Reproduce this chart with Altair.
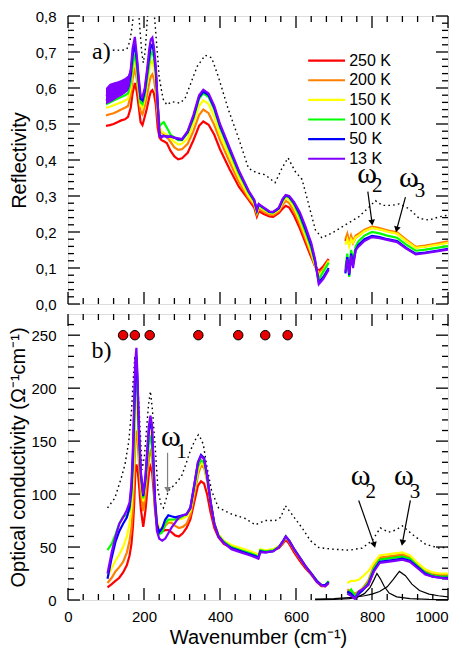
import altair as alt
import pandas as pd

TEMPS = ["250 K", "200 K", "150 K", "100 K", "50 K", "13 K"]
COLORS = ["#ff0000", "#ff8000", "#ffff00", "#00ff00", "#0000ff", "#8000ff"]

# ---------------- Reflectivity (panel a) ----------------
R_WN1 = [100, 110, 120, 130, 140, 150, 158, 165, 170, 176, 181, 186, 191, 196, 202, 208, 214, 218, 222, 226,
         231, 236, 241, 246, 252, 260, 270, 280, 290, 300, 315, 330, 345, 356, 370, 385, 400, 425, 450, 475,
         490, 497, 502, 515, 530, 540, 555, 565, 573, 582, 595, 610, 625, 640, 650, 660, 672, 686]
R1_250 = [0.495, 0.497, 0.500, 0.505, 0.510, 0.513, 0.520, 0.545, 0.585, 0.614, 0.590, 0.550, 0.505, 0.497, 0.520,
          0.545, 0.575, 0.590, 0.594, 0.585, 0.555, 0.490, 0.462, 0.455, 0.452, 0.447, 0.425, 0.410, 0.402, 0.405,
          0.420, 0.455, 0.495, 0.507, 0.498, 0.470, 0.430, 0.375, 0.325, 0.290, 0.268, 0.243, 0.258, 0.250, 0.243,
          0.242, 0.253, 0.265, 0.273, 0.268, 0.245, 0.210, 0.170, 0.130, 0.105, 0.092, 0.105, 0.125]
R1_200 = [0.524, 0.527, 0.530, 0.535, 0.540, 0.545, 0.550, 0.580, 0.625, 0.657, 0.625, 0.580, 0.535, 0.527, 0.550,
          0.580, 0.615, 0.632, 0.638, 0.625, 0.590, 0.520, 0.480, 0.477, 0.470, 0.465, 0.450, 0.435, 0.428, 0.430,
          0.445, 0.480, 0.525, 0.540, 0.530, 0.497, 0.455, 0.395, 0.338, 0.295, 0.275, 0.250, 0.265, 0.256, 0.248,
          0.247, 0.258, 0.275, 0.287, 0.280, 0.258, 0.222, 0.180, 0.138, 0.105, 0.085, 0.098, 0.122]
R1_150 = [0.545, 0.548, 0.552, 0.556, 0.560, 0.565, 0.570, 0.600, 0.650, 0.679, 0.645, 0.595, 0.550, 0.545, 0.570,
          0.610, 0.650, 0.670, 0.675, 0.660, 0.620, 0.540, 0.490, 0.480, 0.475, 0.470, 0.460, 0.450, 0.443, 0.445,
          0.460, 0.500, 0.550, 0.566, 0.555, 0.520, 0.470, 0.410, 0.350, 0.300, 0.280, 0.255, 0.270, 0.262, 0.253,
          0.252, 0.262, 0.282, 0.295, 0.290, 0.268, 0.232, 0.190, 0.145, 0.110, 0.080, 0.092, 0.120]
R1_100 = [0.555, 0.560, 0.565, 0.570, 0.575, 0.580, 0.585, 0.615, 0.665, 0.695, 0.660, 0.605, 0.560, 0.555, 0.580,
          0.625, 0.670, 0.695, 0.700, 0.685, 0.640, 0.550, 0.495, 0.500, 0.505, 0.490, 0.470, 0.463, 0.455, 0.455,
          0.475, 0.515, 0.570, 0.586, 0.575, 0.540, 0.490, 0.425, 0.362, 0.310, 0.285, 0.258, 0.275, 0.265, 0.255,
          0.254, 0.265, 0.287, 0.300, 0.296, 0.276, 0.242, 0.200, 0.155, 0.115, 0.068, 0.090, 0.115]
R1_50 = [0.565, 0.572, 0.578, 0.584, 0.590, 0.595, 0.600, 0.635, 0.690, 0.720, 0.680, 0.620, 0.570, 0.565, 0.590,
         0.640, 0.690, 0.715, 0.720, 0.700, 0.650, 0.555, 0.470, 0.465, 0.466, 0.466, 0.465, 0.462, 0.458, 0.457,
         0.478, 0.520, 0.575, 0.590, 0.580, 0.545, 0.495, 0.430, 0.367, 0.313, 0.288, 0.260, 0.277, 0.267, 0.256,
         0.255, 0.266, 0.290, 0.302, 0.298, 0.280, 0.250, 0.208, 0.163, 0.120, 0.060, 0.075, 0.100]
R1_13 = [0.578, 0.584, 0.590, 0.596, 0.602, 0.608, 0.614, 0.650, 0.710, 0.742, 0.690, 0.630, 0.580, 0.575, 0.600,
         0.650, 0.710, 0.735, 0.740, 0.715, 0.660, 0.560, 0.465, 0.462, 0.468, 0.463, 0.466, 0.462, 0.460, 0.458,
         0.480, 0.525, 0.580, 0.595, 0.585, 0.550, 0.500, 0.435, 0.370, 0.315, 0.290, 0.262, 0.278, 0.268, 0.257,
         0.256, 0.268, 0.292, 0.303, 0.300, 0.283, 0.255, 0.215, 0.170, 0.125, 0.055, 0.070, 0.095]

# noisy band of the 13 K reflectivity at low wavenumbers
R_NOISE_WN = [100, 110, 120, 130, 140, 150, 158, 164]
R_NOISE_LO = [0.555, 0.560, 0.565, 0.572, 0.578, 0.585, 0.592, 0.615]
R_NOISE_HI = [0.600, 0.612, 0.615, 0.618, 0.622, 0.628, 0.635, 0.655]

R_WN2 = [730, 735, 740, 745, 750, 757, 765, 780, 800, 820, 840, 866, 890, 915, 940, 970, 1000]
R2_250 = [0.175, 0.190, 0.165, 0.185, 0.170, 0.185, 0.190, 0.203, 0.212, 0.208, 0.203, 0.196, 0.176, 0.157, 0.160, 0.166, 0.172]
R2_200 = [0.180, 0.195, 0.170, 0.190, 0.175, 0.190, 0.195, 0.206, 0.215, 0.211, 0.205, 0.199, 0.179, 0.159, 0.162, 0.168, 0.174]
R2_150 = [0.165, 0.180, 0.160, 0.180, 0.170, 0.185, 0.190, 0.202, 0.211, 0.207, 0.201, 0.195, 0.175, 0.156, 0.159, 0.164, 0.170]
R2_100 = [0.100, 0.140, 0.075, 0.150, 0.120, 0.160, 0.175, 0.190, 0.200, 0.196, 0.190, 0.184, 0.165, 0.148, 0.151, 0.156, 0.161]
R2_50 = [0.085, 0.130, 0.080, 0.140, 0.110, 0.150, 0.165, 0.180, 0.189, 0.186, 0.180, 0.175, 0.156, 0.140, 0.143, 0.148, 0.153]
R2_13 = [0.090, 0.125, 0.085, 0.135, 0.100, 0.150, 0.160, 0.175, 0.186, 0.183, 0.178, 0.172, 0.154, 0.138, 0.141, 0.146, 0.151]

R_DOT_WN = [118, 125, 140, 155, 163, 170, 176, 182, 188, 194, 198, 203, 208, 214, 220, 226, 232, 240, 250, 260,
            273, 285, 295, 308, 322, 340, 361, 378, 396, 422, 449, 475, 497, 519, 545, 563, 579, 598, 616, 633,
            651, 668, 695, 730, 765, 792, 809, 827, 853, 871, 897, 924, 950, 976, 1000]
R_DOT = [0.705, 0.706, 0.704, 0.708, 0.730, 0.780, 0.860, 0.860, 0.780, 0.700, 0.670, 0.700, 0.780, 0.860, 0.860,
         0.820, 0.740, 0.630, 0.570, 0.553, 0.562, 0.560, 0.558, 0.571, 0.610, 0.660, 0.691, 0.684, 0.630, 0.540,
         0.460, 0.377, 0.364, 0.359, 0.337, 0.377, 0.406, 0.368, 0.346, 0.278, 0.206, 0.184, 0.197, 0.220, 0.242,
         0.269, 0.287, 0.274, 0.274, 0.278, 0.265, 0.238, 0.233, 0.242, 0.247]

# ---------------- Optical conductivity (panel b) ----------------
S_WN1 = [104, 115, 125, 135, 145, 155, 162, 167, 171, 174, 177, 180, 183, 187, 192, 198, 204, 209, 213, 217,
         221, 225, 229, 234, 240, 248, 256, 264, 272, 282, 292, 302, 312, 322, 332, 342, 350, 358, 366, 375,
         385, 396, 410, 430, 455, 480, 495, 501, 506, 520, 540, 555, 565, 573, 582, 595, 610, 625, 640, 655,
         667, 677, 686]
S1_250 = [12, 15, 18, 21, 26, 33, 42, 53, 70, 90, 120, 128, 124, 108, 85, 69, 85, 105, 120, 126,
          122, 105, 85, 70, 66, 65, 66, 66, 64, 61, 60, 63, 68, 76, 92, 108, 112, 110, 100, 83,
          68, 59, 53, 49, 46, 43, 41.5, 40.5, 46.5, 46, 47, 49, 53, 57, 53, 45, 37, 30, 24, 17,
          13, 13, 16]
S1_200 = [16, 21, 27, 31, 36, 45, 56, 68, 88, 115, 150, 160, 150, 128, 100, 84, 100, 120, 133, 140,
          136, 115, 90, 72, 66, 66, 70, 73, 73, 70, 68, 69, 72, 80, 98, 118, 127, 125, 113, 92,
          72, 61, 55, 51, 47, 44, 42, 41, 47, 46, 47, 50, 54, 59, 55, 47, 39, 32, 25, 18,
          14, 14, 17]
S1_150 = [22, 30, 37, 43, 50, 60, 72, 88, 110, 140, 175, 190, 175, 145, 112, 93, 110, 135, 152, 160,
          152, 125, 95, 75, 68, 68, 72, 75, 75, 76, 76, 77, 79, 84, 103, 122, 130, 128, 115, 93,
          73, 62, 56, 52, 49, 46, 44, 43, 48, 47, 48, 51, 55, 59, 56, 48, 40, 32, 25, 18,
          14, 14, 17]
S1_100 = [47, 53, 62, 72, 79, 80, 85, 100, 125, 160, 200, 215, 195, 150, 115, 96, 112, 135, 150, 153,
          145, 120, 90, 70, 62, 64, 72, 76, 76, 76, 77, 79, 81, 86, 105, 126, 132, 130, 116, 93,
          72, 61, 55, 50, 47, 44, 42, 41, 47, 46, 47, 50, 55, 60, 56, 48, 40, 32, 25, 18,
          14, 14, 18]
S1_50 = [20, 40, 55, 65, 72, 78, 88, 105, 135, 175, 215, 230, 205, 155, 118, 98, 115, 140, 160, 170,
         160, 130, 95, 72, 64, 68, 76, 80, 79, 78, 79, 80, 81, 87, 108, 130, 137, 134, 118, 93,
         72, 60, 54, 49, 46, 43, 41, 40, 46, 45, 46, 50, 55, 60, 56, 48, 40, 32, 25, 18,
         14, 14, 17]
S1_13 = [25, 45, 60, 72, 78, 85, 92, 110, 145, 185, 225, 238, 210, 160, 120, 100, 118, 145, 165, 174,
         165, 130, 92, 65, 58, 56, 58, 63, 68, 73, 78, 80, 81, 87, 108, 130, 136, 133, 118, 93,
         72, 60, 54, 48, 45, 42, 40, 39, 45, 45, 46, 50, 55, 60, 56, 48, 40, 32, 25, 17,
         14, 13, 16]

S_WN2 = [735, 745, 755, 765, 775, 790, 805, 820, 840, 860, 880, 900, 920, 940, 960, 980, 1000]
S2_250 = [8, 5, 3, 6, 10, 14, 28, 39, 40, 41, 42, 40, 33, 27, 24, 23, 23]
S2_200 = [10, 8, 6, 8, 11, 18, 32, 40, 41, 42, 43, 41, 34, 28, 25, 24, 24]
S2_150 = [16, 18, 18, 19, 22, 27, 35, 42, 43, 44, 45, 42, 35, 29, 26, 25, 25]
S2_100 = [5, 10, 4, 8, 10, 16, 30, 38, 39, 40, 41, 39, 32, 26, 23, 22, 22]
S2_50 = [8, 6, 2, 6, 9, 15, 28, 36, 37, 38, 39, 37, 31, 25, 22, 21, 21]
S2_13 = [6, 4, 1, 8, 10, 14, 27, 35, 36, 37, 38, 36, 30, 24, 22, 21, 20]

S_DOT_WN = [104, 123, 140, 150, 160, 167, 172, 176, 180, 185, 190, 195, 201, 207, 212, 217, 222, 229, 237, 245,
            251, 258, 264, 272, 281, 290, 299, 310, 321, 333, 343, 350, 356, 366, 378, 396, 431, 466, 493, 519,
            545, 560, 572, 589, 616, 638, 660, 695, 739, 774, 800, 822, 844, 862, 880, 906, 941, 976, 1000]
S_DOT = [87, 96, 115, 128, 150, 178, 210, 230, 215, 194, 160, 123, 135, 162, 185, 197, 180, 147, 103, 90,
         87, 95, 103, 106, 109, 113, 117, 128, 140, 150, 156, 152, 147, 125, 103, 87, 81, 77, 71, 75,
         75, 78, 89, 81, 68, 56, 49.5, 48, 47, 49, 56, 68, 64, 66, 70, 62, 52.6, 49, 50]

L2_WN = [650, 700, 740, 760, 780, 795, 805, 813, 822, 832, 845, 865, 900, 950, 1000]
L2 = [0.3, 0.6, 1.3, 2.5, 6, 12, 19, 25, 20, 13, 6.5, 3, 1.3, 0.6, 0.4]
L3_WN = [650, 700, 750, 780, 800, 820, 840, 855, 872, 888, 905, 925, 950, 975, 1000]
L3 = [0.8, 1.3, 2.5, 4, 5.5, 8, 12.5, 19, 27, 23, 15, 9, 5.5, 4, 3]

DOTS_WN = [145, 176, 215, 343, 448, 519, 578]
DOTS_Y = [250, 250, 250, 250, 250, 250, 250]

R1 = [R1_250, R1_200, R1_150, R1_100, R1_50, R1_13]
R2 = [R2_250, R2_200, R2_150, R2_100, R2_50, R2_13]
S1 = [S1_250, S1_200, S1_150, S1_100, S1_50, S1_13]
S2 = [S2_250, S2_200, S2_150, S2_100, S2_50, S2_13]

# annotation texts (data coordinates, centres)
TOP_TXT = pd.DataFrame({"x": [88, 787, 897], "y": [0.700, 0.362, 0.349], "t": ["a)", "ω", "ω"], "fs": [24, 30, 30]})
TOP_SUB = pd.DataFrame({"x": [814, 926], "y": [0.327, 0.314], "t": ["2", "3"]})
TOP_ARR = pd.DataFrame({"x": [789, 888], "y": [0.312, 0.297], "x2": [800, 865], "y2": [0.226, 0.207],
                        "ang": [353, 14], "c": ["black", "black"]})
BOT_TXT = pd.DataFrame({"x": [88, 271, 770, 884], "y": [235, 154, 117, 117], "t": ["b)", "ω", "ω", "ω"],
                        "fs": [24, 30, 30, 30]})
BOT_SUB = pd.DataFrame({"x": [299, 797, 913], "y": [140, 102, 102], "t": ["1", "2", "3"]})
BOT_ARR = pd.DataFrame({"x": [262, 765, 901], "y": [139, 94, 94], "x2": [262, 806, 880], "y2": [104, 52, 54],
                        "ang": [0, 344, 11], "c": ["#808080", "black", "black"]})

W, H1, H2 = 380, 288, 286
FONT = "Liberation Sans"
SERIF = "Liberation Serif"

xs = alt.Scale(domain=[0, 1000], nice=False, zero=False)
ys_top = alt.Scale(domain=[0, 0.8], nice=False, zero=False)
ys_bot = alt.Scale(domain=[0, 270], nice=False, zero=False)

ax_x_bot = alt.Axis(values=[0, 200, 400, 600, 800, 1000], format="d", ticks=False, domain=False, grid=False,
                    labelFlush=False,
                    labelAlign={"condition": {"test": "datum.value === 1000", "value": "right"}, "value": "center"},
                    labelPadding=9, labelFontSize=15, title="Wavenumber (cm⁻¹)", titlePadding=3,
                    titleFontSize=20, titleFontWeight="normal")
ax_y_top = alt.Axis(values=[0, 0.1, 0.2, 0.3, 0.4, 0.5, 0.6, 0.7, 0.8],
                    labelExpr="replace(format(datum.value, '.1f'), '.', ',')",
                    ticks=False, domain=False, grid=False, labelPadding=12, labelFontSize=15,
                    title="Reflectivity", titlePadding=6, titleFontSize=20, titleFontWeight="normal")
ax_y_bot = alt.Axis(values=[0, 50, 100, 150, 200, 250], format="d", ticks=False, domain=False, grid=False,
                    labelPadding=12, labelFontSize=15, title="Optical conductivity (Ω⁻¹cm⁻¹)",
                    titlePadding=2, titleFontSize=20, titleFontWeight="normal")


def long_df(wn1, vals1, wn2, vals2):
    rows = []
    for w, v in zip(wn1, vals1):
        rows.append({"wn": w, "v": v, "seg": "a"})
    for w, v in zip(wn2, vals2):
        rows.append({"wn": w, "v": v, "seg": "b"})
    return pd.DataFrame(rows)


def X(field, ax):
    if ax is None:
        return alt.X(field, type="quantitative", scale=xs, axis=None)
    return alt.X(field, type="quantitative", scale=xs, axis=ax)


def Y(field, ys, ax):
    return alt.Y(field, type="quantitative", scale=ys, axis=ax)


def tick_layers(ys, yax, xax, H, ymaj, ymin):
    xmaj = [0, 200, 400, 600, 800, 1000]
    xmin = [v for v in range(40, 1000, 40) if v % 200 != 0]
    out = []
    for vals, L in [(xmaj, 12), (xmin, 6)]:
        d = pd.DataFrame({"t": vals})
        b = alt.Chart(d).mark_rule(color="black", strokeWidth=1.3)
        out.append(b.encode(x=X("t", xax), y=alt.value(H), y2=alt.value(H - L)))
        out.append(b.encode(x=X("t", xax), y=alt.value(0), y2=alt.value(L)))
    for vals, L in [(ymaj, 12), (ymin, 6)]:
        d = pd.DataFrame({"t": vals})
        b = alt.Chart(d).mark_rule(color="black", strokeWidth=1.3)
        out.append(b.encode(y=Y("t", ys, yax), x=alt.value(0), x2=alt.value(L)))
        out.append(b.encode(y=Y("t", ys, yax), x=alt.value(W), x2=alt.value(W - L)))
    return out


def panel(ys, yax, xax, H, ymaj, ymin, curves1, wn1, curves2, wn2, dot_wn, dot_v, extra_before, extra_after,
          txt, sub, arr):
    layers = tick_layers(ys, yax, xax, H, ymaj, ymin)
    dd = pd.DataFrame({"wn": dot_wn, "v": dot_v})
    layers.append(alt.Chart(dd).mark_line(color="black", strokeWidth=1.4, strokeDash=[1.6, 3.2], clip=True)
                  .encode(x=X("wn", xax), y=Y("v", ys, yax)))
    layers += extra_before
    for i, T in enumerate(TEMPS):
        d = long_df(wn1, curves1[i], wn2, curves2[i])
        layers.append(alt.Chart(d).mark_line(color=COLORS[i], strokeWidth=2.2, clip=True)
                      .encode(x=X("wn", xax), y=Y("v", ys, yax), detail="seg:N"))
    layers += extra_after
    # annotations
    layers.append(alt.Chart(arr).mark_rule(strokeWidth=1.2)
                  .encode(x=X("x", xax), y=Y("y", ys, yax), x2="x2", y2="y2",
                          color=alt.Color("c:N", scale=None)))
    layers.append(alt.Chart(arr).mark_point(shape="triangle-down", filled=True, size=45, opacity=1)
                  .encode(x=X("x2", xax), y=Y("y2", ys, yax), angle=alt.Angle("ang:Q", scale=None),
                          color=alt.Color("c:N", scale=None)))
    layers.append(alt.Chart(txt).mark_text(font=SERIF, align="center", baseline="middle", color="black")
                  .encode(x=X("x", xax), y=Y("y", ys, yax), text="t:N", size=alt.Size("fs:Q", scale=None)))
    layers.append(alt.Chart(sub).mark_text(font=SERIF, fontSize=21, align="center", baseline="middle", color="black")
                  .encode(x=X("x", xax), y=Y("y", ys, yax), text="t:N"))
    return alt.layer(*layers).properties(width=W, height=H)


# legend for panel a (entries placed in data units)
LEG = pd.DataFrame({"T": TEMPS, "i": list(range(6))})
LEG["y"] = 0.676 - LEG["i"] * 0.0545
LEG["x0"] = 632
LEG["x1"] = 729
LEG["xt"] = 740
cscale = alt.Scale(domain=TEMPS, range=COLORS)
leg_lines = alt.Chart(LEG).mark_rule(strokeWidth=2.2).encode(
    x=X("x0", None), x2="x1", y=Y("y", ys_top, ax_y_top), color=alt.Color("T:N", scale=cscale, legend=None))
leg_text = alt.Chart(LEG).mark_text(font=FONT, fontSize=16, align="left", baseline="middle", color="black").encode(
    x=X("xt", None), y=Y("y", ys_top, ax_y_top), text="T:N")

noise = alt.Chart(pd.DataFrame({"wn": R_NOISE_WN, "lo": R_NOISE_LO, "hi": R_NOISE_HI})).mark_area(
    color="#8000ff", opacity=1).encode(x=X("wn", None), y=Y("lo", ys_top, ax_y_top), y2="hi")

top = panel(ys_top, ax_y_top, None, H1,
            [0, 0.1, 0.2, 0.3, 0.4, 0.5, 0.6, 0.7, 0.8],
            [round(0.02 * k, 2) for k in range(41) if k % 5 != 0],
            R1, R_WN1, R2, R_WN2, R_DOT_WN, R_DOT, [], [noise, leg_lines, leg_text],
            TOP_TXT, TOP_SUB, TOP_ARR)

L2df = pd.DataFrame({"wn": L2_WN, "v": L2})
L3df = pd.DataFrame({"wn": L3_WN, "v": L3})
lor = [alt.Chart(L2df).mark_line(color="black", strokeWidth=1.2).encode(x=X("wn", ax_x_bot), y=Y("v", ys_bot, ax_y_bot)),
       alt.Chart(L3df).mark_line(color="black", strokeWidth=1.2).encode(x=X("wn", ax_x_bot), y=Y("v", ys_bot, ax_y_bot))]
dots = alt.Chart(pd.DataFrame({"wn": DOTS_WN, "v": DOTS_Y})).mark_point(
    filled=True, shape="circle", size=90, fill="#e60000", stroke="black", strokeWidth=1, opacity=1).encode(
    x=X("wn", ax_x_bot), y=Y("v", ys_bot, ax_y_bot))

bottom = panel(ys_bot, ax_y_bot, ax_x_bot, H2,
               [0, 50, 100, 150, 200, 250],
               [v for v in range(10, 270, 10) if v % 50 != 0],
               S1, S_WN1, S2, S_WN2, S_DOT_WN, S_DOT, lor, [dots],
               BOT_TXT, BOT_SUB, BOT_ARR)

chart = alt.vconcat(top, bottom, spacing=10, bounds="flush").properties(
    padding={"left": 0, "top": 0, "right": 0, "bottom": 0}
).configure_view(stroke="black", strokeWidth=1.5).configure_axis(
    labelFont=FONT, titleFont=FONT, labelColor="black", titleColor="black", titleFontWeight="normal"
).configure(background="white")

chart.save("out.html", embed_options={"renderer": "svg", "actions": False})
